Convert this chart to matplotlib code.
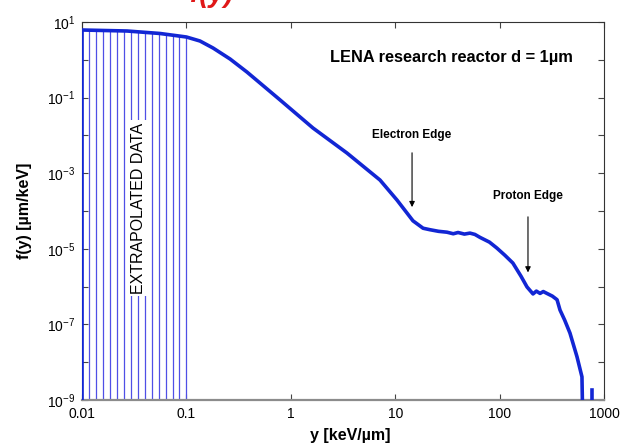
import numpy as np
import matplotlib
matplotlib.use('Agg')
import matplotlib.pyplot as plt

plt.rcParams['font.family'] = ['Liberation Sans', 'DejaVu Sans']

# spectrum
y_kev = [0.01, 0.01, 0.027, 0.0558, 0.1, 0.135, 0.18, 0.262, 0.38, 0.507, 0.79,
         1.63, 3.45, 7.15, 10.4, 14.8, 18.5, 21.5, 26, 31.3, 36, 40, 46, 52, 58,
         65, 80, 94, 112, 134, 160, 183, 209, 225, 244, 262, 284, 320, 355, 379,
         420, 472, 551, 615, 630]
f_y = [1e-10, 6.14, 5.78, 4.97, 4.01, 3.14, 2.05, 1.05, 0.475, 0.243, 0.0865,
       0.0157, 3.42e-3, 6.6e-4, 1.95e-4, 5.5e-5, 3.5e-5, 3.2e-5, 2.9e-5, 2.75e-5, 2.5e-5,
       2.7e-5, 2.45e-5, 2.6e-5, 2.4e-5, 2.0e-5, 1.5e-5, 1.05e-5, 6.8e-6, 4.2e-6, 1.9e-6,
       9.8e-7, 6.4e-7, 7.6e-7, 6.6e-7, 7.4e-7, 6.6e-7, 5.6e-7, 4.5e-7, 2.4e-7,
       1.3e-7, 5.9e-8, 1.4e-8, 4.1e-9, 1e-10]

# lone bin at the high end
spike_x = [767, 767]
spike_f = [1e-10, 1.8e-9]

# extrapolated region stems
extra_x = [0.01, 0.0117, 0.0136, 0.0158, 0.0185, 0.0215, 0.0251, 0.0293,
           0.0342, 0.0398, 0.0464, 0.0541, 0.0631, 0.0736, 0.0858, 0.1]
extra_f = [6.1, 6.05, 6.0, 5.95, 5.9, 5.85, 5.8, 5.7,
           5.55, 5.4, 5.2, 5.0, 4.8, 4.55, 4.3, 4.0]

x_ticks = [0.01, 0.1, 1, 10, 100, 1000]
x_labels = ['0.01', '0.1', '1', '10', '100', '1000']
y_exps = list(range(-9, 2))

fig = plt.figure(figsize=(6.2, 4.47), dpi=100)
ax = fig.add_axes([82 / 620, 47 / 447, 522 / 620, 378 / 447])

blue = '#1226d4'
ax.vlines(extra_x, 1e-9, extra_f, color='#4f4fe6', lw=0.9, zorder=2)
ax.plot(y_kev, f_y, color=blue, lw=2.6, zorder=3)
ax.plot(spike_x, spike_f, color=blue, lw=2.6, zorder=3)

ax.set_xscale('log')
ax.set_yscale('log')
ax.set_xlim(0.01, 1000)
ax.set_ylim(1e-9, 10)
ax.minorticks_off()
ax.set_xticks(x_ticks)
ax.set_xticklabels(x_labels)
ax.set_yticks([10.0 ** e for e in y_exps])
ax.set_yticklabels([r'$\mathregular{10^{%d}}$' % e if e % 2 else '' for e in y_exps])
ax.tick_params(direction='in', length=4, width=0.8, top=True, right=True,
               labelsize=10, color='#444444', pad=5)

for s in ['top', 'right', 'left']:
    ax.spines[s].set_color('#333333')
    ax.spines[s].set_linewidth(0.8)
ax.spines['bottom'].set_color('#8c8c8c')
ax.spines['bottom'].set_linewidth(1.6)

ax.set_xlabel('y [keV/µm]', fontsize=11.5, fontweight='bold')
ax.set_ylabel('f(y) [µm/keV]', fontsize=11.5, fontweight='bold')
ax.xaxis.set_label_coords(0.513, -0.074)
ax.yaxis.set_label_coords(-0.096, 0.5)

ax.text(0.109, 0.508, 'EXTRAPOLATED DATA', transform=ax.transAxes, rotation=90,
        ha='center', va='center', fontsize=11.5, zorder=4,
        bbox=dict(facecolor='white', edgecolor='none', pad=1.5))
ax.text(0.707, 0.905, 'LENA research reactor d = 1µm', transform=ax.transAxes,
        ha='center', va='center', fontsize=11.8, fontweight='bold')

ax.annotate('', xy=(14.5, 1.07e-4), xytext=(14.5, 4.1e-3),
            arrowprops=dict(arrowstyle='-|>', color='black', lw=0.8, mutation_scale=8))
ax.text(14.5, 1.0e-2, 'Electron Edge', ha='center', va='center', fontsize=8.5, fontweight='bold')
ax.annotate('', xy=(187, 2.0e-6), xytext=(187, 8.3e-5),
            arrowprops=dict(arrowstyle='-|>', color='black', lw=0.8, mutation_scale=8))
ax.text(187, 2.5e-4, 'Proton Edge', ha='center', va='center', fontsize=8.5, fontweight='bold')

# slide title cut off at the top, as in the source
fig.text(0.306, 0.995, 'f(y)', color='#e01818', fontsize=20, style='italic',
         fontweight='bold', ha='left', va='baseline')

fig.savefig('out.png', dpi=100)
